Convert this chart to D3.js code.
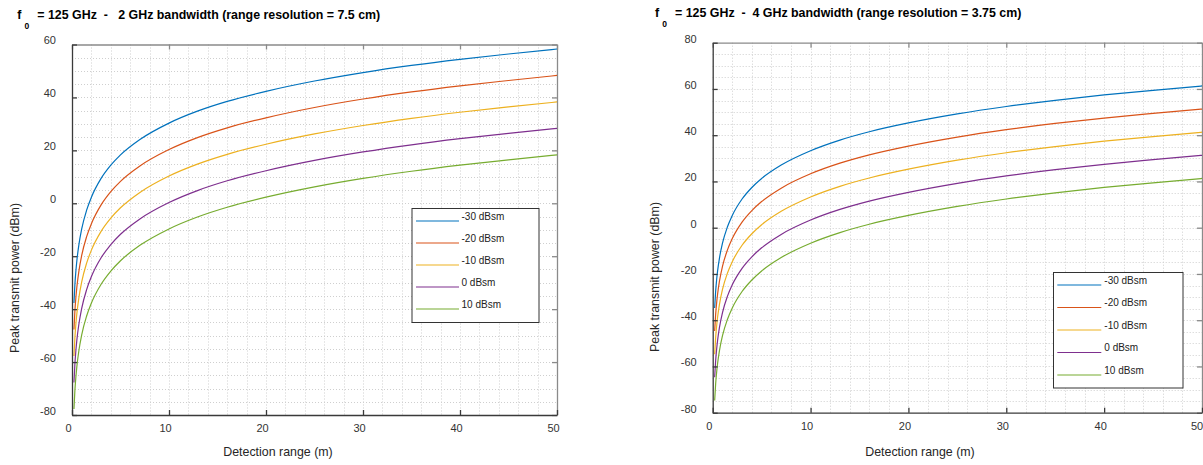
<!DOCTYPE html>
<html>
<head>
<meta charset="utf-8">
<script src="https://cdn.jsdelivr.net/npm/d3@7"></script>
<style>
  html, body { margin: 0; padding: 0; background: #fff; }
  svg { display: block; font-family: "Liberation Sans", Arial, sans-serif; }
  .ttl { font-weight: bold; white-space: pre; fill: #000; }
</style>
</head>
<body>
<svg id="chart" width="1203" height="465"></svg>
<script>
// Detection range (m) at which each curve is sampled
const rangeM = [0.2, 0.3, 0.4, 0.5, 0.7, 1, 1.5, 2, 3, 4, 5, 7, 10, 13, 16, 20, 25, 30, 35, 40, 45, 50];

// Target radar cross-sections
const rcsLabels = ["-30 dBsm", "-20 dBsm", "-10 dBsm", "0 dBsm", "10 dBsm"];
const rcsColors = ["#0072BD", "#D95319", "#EDB120", "#7E2F8E", "#77AC30"];

// 2 GHz bandwidth: peak transmit power (dBm)
const bw2_m30 = [-37.7, -30.6, -25.6, -21.7, -15.9, -9.7, -2.7, 2.3, 9.4, 14.4, 18.3, 24.1, 30.3, 34.9, 38.5, 42.3, 46.2, 49.4, 52.1, 54.4, 56.4, 58.3];
const bw2_m20 = [-47.7, -40.6, -35.6, -31.7, -25.9, -19.7, -12.7, -7.7, -0.6, 4.4, 8.3, 14.1, 20.3, 24.9, 28.5, 32.3, 36.2, 39.4, 42.1, 44.4, 46.4, 48.3];
const bw2_m10 = [-57.7, -50.6, -45.6, -41.7, -35.9, -29.7, -22.7, -17.7, -10.6, -5.6, -1.7, 4.1, 10.3, 14.9, 18.5, 22.3, 26.2, 29.4, 32.1, 34.4, 36.4, 38.3];
const bw2_p0  = [-67.7, -60.6, -55.6, -51.7, -45.9, -39.7, -32.7, -27.7, -20.6, -15.6, -11.7, -5.9, 0.3, 4.9, 8.5, 12.3, 16.2, 19.4, 22.1, 24.4, 26.4, 28.3];
const bw2_p10 = [-77.7, -70.6, -65.6, -61.7, -55.9, -49.7, -42.7, -37.7, -30.6, -25.6, -21.7, -15.9, -9.7, -5.1, -1.5, 2.3, 6.2, 9.4, 12.1, 14.4, 16.4, 18.3];

// 4 GHz bandwidth: peak transmit power (dBm)
const bw4_m30 = [-34.7, -27.6, -22.6, -18.7, -12.9, -6.7, 0.3, 5.3, 12.4, 17.4, 21.3, 27.1, 33.3, 37.9, 41.5, 45.3, 49.2, 52.4, 55.1, 57.4, 59.4, 61.3];
const bw4_m20 = [-44.7, -37.6, -32.6, -28.7, -22.9, -16.7, -9.7, -4.7, 2.4, 7.4, 11.3, 17.1, 23.3, 27.9, 31.5, 35.3, 39.2, 42.4, 45.1, 47.4, 49.4, 51.3];
const bw4_m10 = [-54.7, -47.6, -42.6, -38.7, -32.9, -26.7, -19.7, -14.7, -7.6, -2.6, 1.3, 7.1, 13.3, 17.9, 21.5, 25.3, 29.2, 32.4, 35.1, 37.4, 39.4, 41.3];
const bw4_p0  = [-64.7, -57.6, -52.6, -48.7, -42.9, -36.7, -29.7, -24.7, -17.6, -12.6, -8.7, -2.9, 3.3, 7.9, 11.5, 15.3, 19.2, 22.4, 25.1, 27.4, 29.4, 31.3];
const bw4_p10 = [-74.7, -67.6, -62.6, -58.7, -52.9, -46.7, -39.7, -34.7, -27.6, -22.6, -18.7, -12.9, -6.7, -2.1, 1.5, 5.3, 9.2, 12.4, 15.1, 17.4, 19.4, 21.3];

// Axis ticks
const xTicks = [0, 10, 20, 30, 40, 50];
const yTicksLeft = [-80, -60, -40, -20, 0, 20, 40, 60];
const yTicksRight = [-80, -60, -40, -20, 0, 20, 40, 60, 80];

// Titles
const titleLeft = "= 125 GHz  -   2 GHz bandwidth (range resolution = 7.5 cm)";
const titleRight = "= 125 GHz  -  4 GHz bandwidth (range resolution = 3.75 cm)";
const xLabel = "Detection range (m)";
const yLabel = "Peak transmit power (dBm)";

const svg = d3.select("#chart");
const pageWidth = 1203;
const plainNumber = d => String(d);   // ASCII hyphen for negatives

function drawPanel(cfg) {
  const x = d3.scaleLinear().domain([0, 50]).range([cfg.left, cfg.right]);
  const y = d3.scaleLinear().domain(cfg.yDomain).range([cfg.bottom, cfg.top]);
  const g = svg.append("g");

  // dotted grid: every 2 m and every 5 dB
  const grid = g.append("g")
    .attr("stroke", "#cfcfcf").attr("stroke-width", 1).attr("stroke-dasharray", "1,2");
  grid.selectAll("line.v").data(d3.range(2, 50, 2)).join("line")
    .attr("x1", d => Math.round(x(d)) + 0.5).attr("x2", d => Math.round(x(d)) + 0.5)
    .attr("y1", cfg.top).attr("y2", cfg.bottom);
  grid.selectAll("line.h").data(d3.range(cfg.yDomain[0] + 5, cfg.yDomain[1], 5)).join("line")
    .attr("class", "h")
    .attr("y1", d => Math.round(y(d)) + 0.5).attr("y2", d => Math.round(y(d)) + 0.5)
    .attr("x1", cfg.left).attr("x2", cfg.right);

  // frame axes (top/right without labels)
  const top = g.append("g").attr("transform", `translate(0,${cfg.top})`)
    .call(d3.axisTop(x).tickValues(xTicks).tickSizeInner(-5).tickSizeOuter(0).tickFormat(""));
  const right = g.append("g").attr("transform", `translate(${cfg.right},0)`)
    .call(d3.axisRight(y).tickValues(cfg.yTicks).tickSizeInner(-5).tickSizeOuter(0).tickFormat(""));
  [top, right].forEach(a => {
    a.selectAll("path,line").attr("stroke", "#8a8a8a").attr("stroke-width", 1.3);
  });

  // curves
  const line = d3.line().x(d => x(d[0])).y(d => y(d[1])).curve(d3.curveMonotoneX);
  g.append("g").selectAll("path").data(cfg.series).join("path")
    .attr("fill", "none")
    .attr("stroke", (d, i) => rcsColors[i])
    .attr("stroke-width", 1.2)
    .attr("d", s => line(rangeM.map((r, k) => [r, s[k]])));

  const bottom = g.append("g").attr("transform", `translate(0,${cfg.bottom})`)
    .call(d3.axisBottom(x).tickValues(xTicks).tickSizeInner(-5).tickSizeOuter(0).tickFormat(plainNumber));
  const left = g.append("g").attr("transform", `translate(${cfg.left},0)`)
    .call(d3.axisLeft(y).tickValues(cfg.yTicks).tickSizeInner(-5).tickSizeOuter(0).tickFormat(plainNumber));
  [bottom, left].forEach(a => {
    a.selectAll("path,line").attr("stroke", "#3a3a3a").attr("stroke-width", 1.3);
    a.selectAll("text").attr("fill", "#333").style("font-size", "11px")
      .style("font-family", "'Liberation Sans', Arial, sans-serif");
  });
  // keep the last range label inside the page edge
  bottom.selectAll("text")
    .attr("x", d => Math.min(-4, pageWidth - 6.5 - x(d)))
    .attr("y", 13).attr("dy", "0.35em");
  left.selectAll("text").attr("x", -16).attr("y", -4.5).attr("dy", "0.35em");

  // title with subscript
  g.append("text").attr("class", "ttl").attr("x", cfg.tx).attr("y", cfg.ty)
    .style("font-size", "12.4px").text("f");
  g.append("text").attr("class", "ttl").attr("x", cfg.tx + 7.3).attr("y", cfg.ty + 10)
    .style("font-size", "8.5px").text("0");
  g.append("text").attr("class", "ttl").attr("x", cfg.tx + 20).attr("y", cfg.ty)
    .style("font-size", "12.4px").text(cfg.title);

  // axis titles
  g.append("text").attr("x", cfg.xlx).attr("y", cfg.xly).attr("text-anchor", "middle")
    .attr("dy", "0.35em").attr("fill", "#262626").style("font-size", "12.4px").text(xLabel);
  g.append("text").attr("transform", `translate(${cfg.ylx},${cfg.yly}) rotate(-90)`)
    .attr("text-anchor", "middle").attr("dy", "0.35em").attr("fill", "#262626")
    .style("font-size", "12.4px").text(yLabel);

  // legend
  const L = cfg.legend;
  const lg = g.append("g");
  lg.append("rect").attr("x", L.x + 0.5).attr("y", L.y + 0.5).attr("width", L.w).attr("height", L.h)
    .attr("fill", "#fff").attr("stroke", "#333").attr("stroke-width", 1);
  const rows = lg.selectAll("g.row").data(rcsLabels).join("g")
    .attr("transform", (d, i) => `translate(${L.x},${L.y + L.first + i * L.step})`);
  rows.append("line").attr("x1", L.lx0).attr("x2", L.lx1).attr("y1", 0).attr("y2", 0)
    .attr("stroke", (d, i) => rcsColors[i]).attr("stroke-width", 1.2);
  rows.append("text").attr("x", L.tx).attr("y", -5).attr("dy", "0.35em")
    .attr("fill", "#222").style("font-size", "10px").text(d => d);
}

drawPanel({
  left: 72, right: 557, top: 44.5, bottom: 415,
  yDomain: [-80, 60], yTicks: yTicksLeft,
  series: [bw2_m30, bw2_m20, bw2_m10, bw2_p0, bw2_p10],
  title: titleLeft, tx: 17.3, ty: 19.3,
  xlx: 278, xly: 452, ylx: 14.5, yly: 278,
  legend: { x: 411.5, y: 208, w: 127, h: 114, first: 13, step: 22, lx0: 4.5, lx1: 47.5, tx: 50 }
});

drawPanel({
  left: 712.7, right: 1202, top: 42.7, bottom: 412.7,
  yDomain: [-80, 80], yTicks: yTicksRight,
  series: [bw4_m30, bw4_m20, bw4_m10, bw4_p0, bw4_p10],
  title: titleRight, tx: 655, ty: 16.7,
  xlx: 920, xly: 452, ylx: 655, yly: 277,
  legend: { x: 1053, y: 272, w: 129.5, h: 115.5, first: 13, step: 22.5, lx0: 4.3, lx1: 48.3, tx: 51.3 }
});
</script>
</body>
</html>
